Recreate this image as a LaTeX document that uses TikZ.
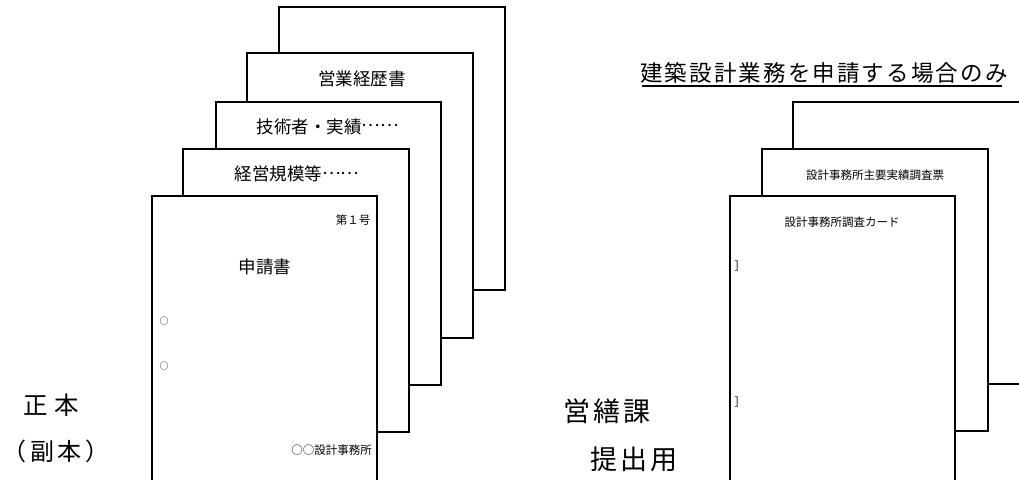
\documentclass[tikz,border=0pt]{standalone}
\usepackage{fontspec}
\setmainfont{Noto Sans CJK JP}
\newfontfamily\jpfont{Noto Sans CJK JP}
\newfontfamily\jplabel[LetterSpace=11]{Noto Sans CJK JP}
\newfontfamily\jpwide[LetterSpace=28]{Noto Sans CJK JP}
\newfontfamily\jpmid[LetterSpace=15]{Noto Sans CJK JP}
\newfontfamily\jptitle[LetterSpace=9.5]{Noto Sans CJK JP}
\newcommand{\midellipsis}{\raisebox{0.38em}{……}}
\begin{document}
\begin{tikzpicture}[x=1pt,y=-1pt,
  sheet/.style={draw=black,line width=2.3pt,fill=white},
  bigtxt/.style={font=\fontsize{17.5}{20}\selectfont\jpfont,inner sep=0pt},
  smalltxt/.style={font=\fontsize{11.5}{13}\selectfont\jpfont,inner sep=0pt},
  holetxt/.style={font=\fontsize{9}{10}\selectfont\jpfont,inner sep=0pt},
  labeltxt/.style={font=\fontsize{27}{30}\selectfont\jplabel,inner sep=0pt}]
\useasboundingbox (0,0) rectangle (1019,479);
\clip (0,0) rectangle (1019,479);
% left stack
\draw[sheet] (279,7) rectangle (505,290);
\draw[sheet] (247,53) rectangle (473,338);
\draw[sheet] (216,102) rectangle (441,385);
\draw[sheet] (183,149) rectangle (409,432);
\draw[sheet] (152,196) rectangle (377,500);
\node[bigtxt] (eigyo) at (362,79) {営業経歴書};
\node[bigtxt] (gijutsu) at (328,127) {技術者・実績\midellipsis};
\node[bigtxt] (keiei) at (297,174) {経営規模等\midellipsis};
\node[smalltxt] (dai1) at (353,220) {第１号};
\node[bigtxt] (shinsei) at (265,267) {申請書};
\node[holetxt] (hole1) at (164,321) {○};
\node[holetxt] (hole2) at (164,366) {○};
\node[smalltxt,anchor=east] (jimusho) at (372,450) {○○設計事務所};
\node[font=\fontsize{24.5}{27}\selectfont\jpwide,inner sep=0pt,anchor=west] (seihon) at (23,405) {正本};
\node[font=\fontsize{24}{27}\selectfont\jpmid,inner sep=0pt] (fukuhon) at (56,451) {（副本）};
% right stack
\draw[sheet] (793,102) rectangle (1040,384);
\draw[sheet] (762,149) rectangle (988,431);
\draw[sheet] (730,196) rectangle (955,500);
\node[font=\fontsize{22.5}{25}\selectfont\jptitle,inner sep=0pt,anchor=west] (title) at (640,73) {建築設計業務を申請する場合のみ};
\coordinate (ulA) at (642,86);
\coordinate (ulB) at (1002,86);
\draw[line width=1.5pt] (ulA) -- (ulB);
\node[smalltxt] (shuyo) at (875,175) {設計事務所主要実績調査票};
\node[smalltxt] (card) at (842,222) {設計事務所調査カード};
\node[smalltxt] (br1) at (740,266) {］};
\node[smalltxt] (br2) at (740,402) {］};
\node[labeltxt,anchor=west] (eizen) at (563,411) {営繕課};
\node[labeltxt,anchor=west] (teishutsu) at (590,459) {提出用};
\end{tikzpicture}
\end{document}
